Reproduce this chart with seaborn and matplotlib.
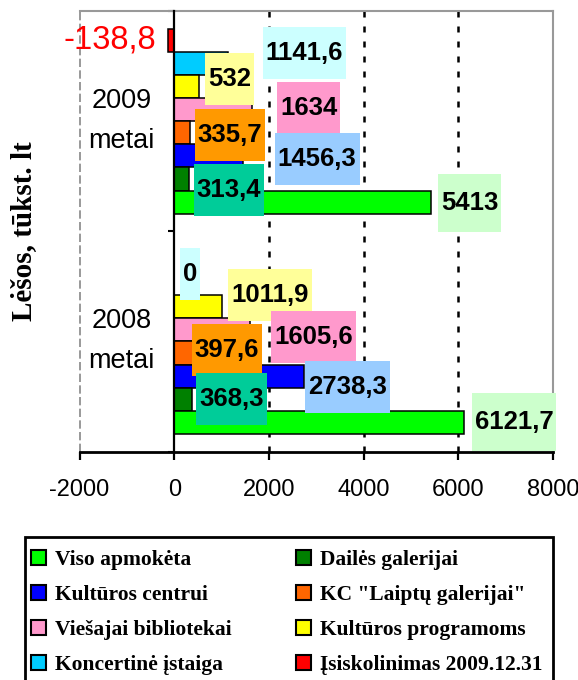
import pandas as pd
import seaborn as sns
import matplotlib.pyplot as plt
from matplotlib.path import Path
from matplotlib.patches import Patch, Rectangle
from matplotlib.colors import to_hex

plt.rcParams['font.family'] = 'Liberation Sans'
plt.rcParams['axes.unicode_minus'] = False

# data
years = ['2009\nmetai', '2008\nmetai']
items = ['Viso apmokėta', 'Dailės galerijai', 'Kultūros centrui', 'KC "Laiptų galerijai"',
         'Viešajai bibliotekai', 'Kultūros programoms', 'Koncertinė įstaiga',
         'Įsiskolinimas 2009.12.31']
values_2009 = [5413, 313.4, 1456.3, 335.7, 1634, 532, 1141.6, -138.8]
values_2008 = [6121.7, 368.3, 2738.3, 397.6, 1605.6, 1011.9, 0, None]

bar_colors = ['#00ff00', '#008000', '#0000ff', '#ff6600',
              '#ff99cc', '#ffff00', '#00ccff', '#ff0000']
label_colors = ['#ccffcc', '#00cc99', '#99ccff', '#ff9900',
                '#ff99cc', '#ffff99', '#ccffff', None]

# where the value labels sit, pixels right/up from the bar end (hand placed, like the original)
offsets_2009 = [(39, -1), (40, -11), (74, -3), (40, -2), (57, 2), (30, 7), (76, 10), (-58, 0)]
offsets_2008 = [(50, 0), (40, 0), (44, -11), (34, 3), (63, -7), (48, 12), (16, 10), None]

all_values = [values_2009, values_2008]
all_offsets = [offsets_2009, offsets_2008]

rows = []
for year, vals in zip(years, all_values):
    for item, v in zip(items, vals):
        if v is not None:
            rows.append({'year': year, 'item': item, 'value': v})
df = pd.DataFrame(rows)


def tall_box(pad_x, pad_y):
    # label box a lot taller than the text, like the excel labels
    def box(x0, y0, width, height, mutation_size):
        return Path([(x0 - pad_x, y0 - pad_y), (x0 + width + pad_x, y0 - pad_y),
                     (x0 + width + pad_x, y0 + height + pad_y),
                     (x0 - pad_x, y0 + height + pad_y), (x0 - pad_x, y0 - pad_y)],
                    closed=True)
    return box


def fmt(v):
    return f'{v:g}'.replace('.', ',')


fig = plt.figure(figsize=(5.78, 6.8), dpi=100)
ax = fig.add_axes([79.5 / 578, 1 - 451.5 / 680, (553 - 79.5) / 578, (451.5 - 11) / 680])

sns.barplot(data=df, x='value', y='year', hue='item', order=years, hue_order=items[::-1],
            palette=dict(zip(items, bar_colors)), orient='h', width=0.84, saturation=1,
            edgecolor='black', linewidth=1.1, errorbar=None, legend=False, ax=ax, zorder=3)

ax.set_xlim(-2000, 8000)
ax.set_xticks([-2000, 0, 2000, 4000, 6000, 8000])
ax.set_xlabel('')
ax.set_ylabel('')

# grid and frame
for g in [2000, 4000, 6000]:
    ax.axvline(g, color='black', lw=1.8, ls=(0, (2.4, 3.6)), zorder=1)
ax.axvline(-2000, color='#888888', lw=1.2, ls=(0, (5, 2)), clip_on=False, zorder=1)

ax.spines['left'].set_position(('data', 0))
ax.spines['left'].set_color('black')
ax.spines['left'].set_linewidth(1.6)
ax.spines['left'].set_zorder(4)
ax.spines['bottom'].set_color('black')
ax.spines['bottom'].set_linewidth(2)
for s in ['top', 'right']:
    ax.spines[s].set_color('#999999')
    ax.spines[s].set_linewidth(1.5)

ax.tick_params(axis='x', length=6, width=1.6, pad=14, labelsize=17, direction='out')
ax.set_yticks([-0.5, 0.5, 1.5], minor=True)
ax.tick_params(axis='y', which='major', length=0, pad=14)
ax.tick_params(axis='y', which='minor', length=4.5, width=1.5, direction='out')
ax.set_yticks([0, 1])
ax.set_yticklabels(years, fontsize=19.5, multialignment='center', linespacing=1.7,
                   va='center')

# value labels
color_index = {to_hex(c): i for i, c in enumerate(bar_colors)}
for p in ax.patches:
    i = color_index.get(to_hex(p.get_facecolor()))
    if i is None:
        continue
    yc = p.get_y() + p.get_height() / 2
    c = int(round(yc))
    v = all_values[c][i]
    off = all_offsets[c][i]
    if v is None or off is None:
        continue
    end = p.get_x() + p.get_width()
    if label_colors[i] is None:
        ax.annotate(fmt(v), xy=(end, yc), xytext=off, textcoords='offset pixels',
                    ha='center', va='center', fontsize=23.5, color='#ff0000',
                    annotation_clip=False, zorder=6)
    else:
        pad_y = 17 if i == 0 else 14
        ax.annotate(fmt(v), xy=(end, yc), xytext=off, textcoords='offset pixels',
                    ha='center', va='center', fontsize=18.5, fontweight='bold',
                    color='black', annotation_clip=False, zorder=6,
                    bbox=dict(boxstyle=tall_box(3, pad_y), facecolor=label_colors[i],
                              edgecolor='none'))

fig.text(24 / 578, 1 - 231 / 680, 'Lėšos, tūkst. lt', rotation=90, ha='center', va='center',
         family='Liberation Serif', weight='bold', size=21)

# legend, two columns filled row by row; its box runs off the bottom of the picture
order = [0, 2, 4, 6, 1, 3, 5, 7]
handles = [Patch(facecolor=bar_colors[k], edgecolor='black', linewidth=1.5) for k in order]
labels = [items[k] for k in order]
fig.legend(handles, labels, loc='upper left', bbox_to_anchor=(31 / 578, 1 - 550 / 680),
           ncol=2, frameon=False, borderaxespad=0, borderpad=0,
           handlelength=0.7, handleheight=0.7, handletextpad=0.4,
           columnspacing=3.0, labelspacing=0.7,
           prop={'family': 'Liberation Serif', 'weight': 'bold', 'size': 15.5})
fig.add_artist(Rectangle((25 / 578, -0.05), (553 - 25) / 578, 1 - 537 / 680 + 0.05,
                         transform=fig.transFigure, fill=False, edgecolor='black', lw=2))

fig.savefig('out.png', dpi=100)
